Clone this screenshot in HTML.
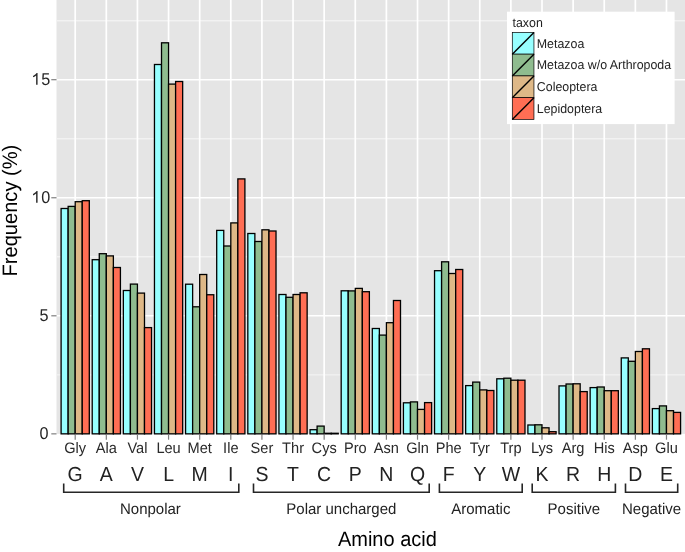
<!DOCTYPE html><html><head><meta charset="utf-8"><style>html,body{margin:0;padding:0;background:#fff;}#w{position:relative;width:685px;height:552px;overflow:hidden;}svg{display:block;position:absolute;left:-6px;top:-6px;will-change:transform;filter:blur(0.35px);}text{font-family:"Liberation Sans",sans-serif;text-rendering:geometricPrecision;}</style></head><body>
<div id="w">
<svg width="697" height="564" viewBox="-6 -6 697 564">
<rect x="-6" y="-6" width="697" height="564" fill="#fff"/>
<rect x="56.5" y="-6" width="634.5" height="439.85" fill="#E5E5E5"/>
<line x1="56.5" x2="691" y1="374.83" y2="374.83" stroke="#F2F2F2" stroke-width="1.4"/>
<line x1="56.5" x2="691" y1="256.78" y2="256.78" stroke="#F2F2F2" stroke-width="1.4"/>
<line x1="56.5" x2="691" y1="138.73" y2="138.73" stroke="#F2F2F2" stroke-width="1.4"/>
<line x1="56.5" x2="691" y1="20.68" y2="20.68" stroke="#F2F2F2" stroke-width="1.4"/>
<line x1="56.5" x2="691" y1="315.80" y2="315.80" stroke="#FFFFFF" stroke-width="1.5"/>
<line x1="56.5" x2="691" y1="197.75" y2="197.75" stroke="#FFFFFF" stroke-width="1.5"/>
<line x1="56.5" x2="691" y1="79.70" y2="79.70" stroke="#FFFFFF" stroke-width="1.5"/>
<line x1="75.20" x2="75.20" y1="-6" y2="433.85" stroke="#FFFFFF" stroke-width="1.7"/>
<line x1="106.32" x2="106.32" y1="-6" y2="433.85" stroke="#FFFFFF" stroke-width="1.7"/>
<line x1="137.44" x2="137.44" y1="-6" y2="433.85" stroke="#FFFFFF" stroke-width="1.7"/>
<line x1="168.56" x2="168.56" y1="-6" y2="433.85" stroke="#FFFFFF" stroke-width="1.7"/>
<line x1="199.68" x2="199.68" y1="-6" y2="433.85" stroke="#FFFFFF" stroke-width="1.7"/>
<line x1="230.80" x2="230.80" y1="-6" y2="433.85" stroke="#FFFFFF" stroke-width="1.7"/>
<line x1="261.92" x2="261.92" y1="-6" y2="433.85" stroke="#FFFFFF" stroke-width="1.7"/>
<line x1="293.04" x2="293.04" y1="-6" y2="433.85" stroke="#FFFFFF" stroke-width="1.7"/>
<line x1="324.16" x2="324.16" y1="-6" y2="433.85" stroke="#FFFFFF" stroke-width="1.7"/>
<line x1="355.28" x2="355.28" y1="-6" y2="433.85" stroke="#FFFFFF" stroke-width="1.7"/>
<line x1="386.40" x2="386.40" y1="-6" y2="433.85" stroke="#FFFFFF" stroke-width="1.7"/>
<line x1="417.52" x2="417.52" y1="-6" y2="433.85" stroke="#FFFFFF" stroke-width="1.7"/>
<line x1="448.64" x2="448.64" y1="-6" y2="433.85" stroke="#FFFFFF" stroke-width="1.7"/>
<line x1="479.76" x2="479.76" y1="-6" y2="433.85" stroke="#FFFFFF" stroke-width="1.7"/>
<line x1="510.88" x2="510.88" y1="-6" y2="433.85" stroke="#FFFFFF" stroke-width="1.7"/>
<line x1="542.00" x2="542.00" y1="-6" y2="433.85" stroke="#FFFFFF" stroke-width="1.7"/>
<line x1="573.12" x2="573.12" y1="-6" y2="433.85" stroke="#FFFFFF" stroke-width="1.7"/>
<line x1="604.24" x2="604.24" y1="-6" y2="433.85" stroke="#FFFFFF" stroke-width="1.7"/>
<line x1="635.36" x2="635.36" y1="-6" y2="433.85" stroke="#FFFFFF" stroke-width="1.7"/>
<line x1="666.48" x2="666.48" y1="-6" y2="433.85" stroke="#FFFFFF" stroke-width="1.7"/>
<rect x="61.10" y="208.50" width="7.05" height="225.35" fill="#97FFFF" stroke="#000" stroke-width="1.3"/>
<rect x="68.15" y="206.40" width="7.05" height="227.45" fill="#8FBC8F" stroke="#000" stroke-width="1.3"/>
<rect x="75.20" y="201.70" width="7.05" height="232.15" fill="#DEB887" stroke="#000" stroke-width="1.3"/>
<rect x="82.25" y="200.70" width="7.05" height="233.15" fill="#FF6E54" stroke="#000" stroke-width="1.3"/>
<rect x="92.22" y="259.70" width="7.05" height="174.15" fill="#97FFFF" stroke="#000" stroke-width="1.3"/>
<rect x="99.27" y="253.70" width="7.05" height="180.15" fill="#8FBC8F" stroke="#000" stroke-width="1.3"/>
<rect x="106.32" y="255.90" width="7.05" height="177.95" fill="#DEB887" stroke="#000" stroke-width="1.3"/>
<rect x="113.37" y="267.50" width="7.05" height="166.35" fill="#FF6E54" stroke="#000" stroke-width="1.3"/>
<rect x="123.34" y="290.50" width="7.05" height="143.35" fill="#97FFFF" stroke="#000" stroke-width="1.3"/>
<rect x="130.39" y="284.10" width="7.05" height="149.75" fill="#8FBC8F" stroke="#000" stroke-width="1.3"/>
<rect x="137.44" y="293.10" width="7.05" height="140.75" fill="#DEB887" stroke="#000" stroke-width="1.3"/>
<rect x="144.49" y="327.60" width="7.05" height="106.25" fill="#FF6E54" stroke="#000" stroke-width="1.3"/>
<rect x="154.46" y="64.50" width="7.05" height="369.35" fill="#97FFFF" stroke="#000" stroke-width="1.3"/>
<rect x="161.51" y="42.80" width="7.05" height="391.05" fill="#8FBC8F" stroke="#000" stroke-width="1.3"/>
<rect x="168.56" y="84.10" width="7.05" height="349.75" fill="#DEB887" stroke="#000" stroke-width="1.3"/>
<rect x="175.61" y="81.50" width="7.05" height="352.35" fill="#FF6E54" stroke="#000" stroke-width="1.3"/>
<rect x="185.58" y="284.20" width="7.05" height="149.65" fill="#97FFFF" stroke="#000" stroke-width="1.3"/>
<rect x="192.63" y="306.80" width="7.05" height="127.05" fill="#8FBC8F" stroke="#000" stroke-width="1.3"/>
<rect x="199.68" y="274.50" width="7.05" height="159.35" fill="#DEB887" stroke="#000" stroke-width="1.3"/>
<rect x="206.73" y="294.75" width="7.05" height="139.10" fill="#FF6E54" stroke="#000" stroke-width="1.3"/>
<rect x="216.70" y="230.40" width="7.05" height="203.45" fill="#97FFFF" stroke="#000" stroke-width="1.3"/>
<rect x="223.75" y="246.00" width="7.05" height="187.85" fill="#8FBC8F" stroke="#000" stroke-width="1.3"/>
<rect x="230.80" y="222.90" width="7.05" height="210.95" fill="#DEB887" stroke="#000" stroke-width="1.3"/>
<rect x="237.85" y="178.90" width="7.05" height="254.95" fill="#FF6E54" stroke="#000" stroke-width="1.3"/>
<rect x="247.82" y="233.50" width="7.05" height="200.35" fill="#97FFFF" stroke="#000" stroke-width="1.3"/>
<rect x="254.87" y="241.50" width="7.05" height="192.35" fill="#8FBC8F" stroke="#000" stroke-width="1.3"/>
<rect x="261.92" y="229.80" width="7.05" height="204.05" fill="#DEB887" stroke="#000" stroke-width="1.3"/>
<rect x="268.97" y="231.00" width="7.05" height="202.85" fill="#FF6E54" stroke="#000" stroke-width="1.3"/>
<rect x="278.94" y="294.50" width="7.05" height="139.35" fill="#97FFFF" stroke="#000" stroke-width="1.3"/>
<rect x="285.99" y="297.30" width="7.05" height="136.55" fill="#8FBC8F" stroke="#000" stroke-width="1.3"/>
<rect x="293.04" y="294.50" width="7.05" height="139.35" fill="#DEB887" stroke="#000" stroke-width="1.3"/>
<rect x="300.09" y="292.80" width="7.05" height="141.05" fill="#FF6E54" stroke="#000" stroke-width="1.3"/>
<rect x="310.06" y="429.70" width="7.05" height="4.15" fill="#97FFFF" stroke="#000" stroke-width="1.3"/>
<rect x="317.11" y="426.10" width="7.05" height="7.75" fill="#8FBC8F" stroke="#000" stroke-width="1.3"/>
<rect x="324.16" y="433.30" width="7.05" height="0.55" fill="#DEB887" stroke="#000" stroke-width="1.3"/>
<rect x="331.21" y="433.30" width="7.05" height="0.55" fill="#FF6E54" stroke="#000" stroke-width="1.3"/>
<rect x="341.18" y="290.80" width="7.05" height="143.05" fill="#97FFFF" stroke="#000" stroke-width="1.3"/>
<rect x="348.23" y="290.90" width="7.05" height="142.95" fill="#8FBC8F" stroke="#000" stroke-width="1.3"/>
<rect x="355.28" y="288.40" width="7.05" height="145.45" fill="#DEB887" stroke="#000" stroke-width="1.3"/>
<rect x="362.33" y="291.70" width="7.05" height="142.15" fill="#FF6E54" stroke="#000" stroke-width="1.3"/>
<rect x="372.30" y="328.50" width="7.05" height="105.35" fill="#97FFFF" stroke="#000" stroke-width="1.3"/>
<rect x="379.35" y="335.10" width="7.05" height="98.75" fill="#8FBC8F" stroke="#000" stroke-width="1.3"/>
<rect x="386.40" y="322.70" width="7.05" height="111.15" fill="#DEB887" stroke="#000" stroke-width="1.3"/>
<rect x="393.45" y="300.50" width="7.05" height="133.35" fill="#FF6E54" stroke="#000" stroke-width="1.3"/>
<rect x="403.42" y="402.80" width="7.05" height="31.05" fill="#97FFFF" stroke="#000" stroke-width="1.3"/>
<rect x="410.47" y="401.90" width="7.05" height="31.95" fill="#8FBC8F" stroke="#000" stroke-width="1.3"/>
<rect x="417.52" y="409.40" width="7.05" height="24.45" fill="#DEB887" stroke="#000" stroke-width="1.3"/>
<rect x="424.57" y="402.60" width="7.05" height="31.25" fill="#FF6E54" stroke="#000" stroke-width="1.3"/>
<rect x="434.54" y="270.70" width="7.05" height="163.15" fill="#97FFFF" stroke="#000" stroke-width="1.3"/>
<rect x="441.59" y="261.80" width="7.05" height="172.05" fill="#8FBC8F" stroke="#000" stroke-width="1.3"/>
<rect x="448.64" y="273.50" width="7.05" height="160.35" fill="#DEB887" stroke="#000" stroke-width="1.3"/>
<rect x="455.69" y="269.50" width="7.05" height="164.35" fill="#FF6E54" stroke="#000" stroke-width="1.3"/>
<rect x="465.66" y="385.60" width="7.05" height="48.25" fill="#97FFFF" stroke="#000" stroke-width="1.3"/>
<rect x="472.71" y="382.10" width="7.05" height="51.75" fill="#8FBC8F" stroke="#000" stroke-width="1.3"/>
<rect x="479.76" y="389.90" width="7.05" height="43.95" fill="#DEB887" stroke="#000" stroke-width="1.3"/>
<rect x="486.81" y="390.50" width="7.05" height="43.35" fill="#FF6E54" stroke="#000" stroke-width="1.3"/>
<rect x="496.78" y="378.80" width="7.05" height="55.05" fill="#97FFFF" stroke="#000" stroke-width="1.3"/>
<rect x="503.83" y="378.20" width="7.05" height="55.65" fill="#8FBC8F" stroke="#000" stroke-width="1.3"/>
<rect x="510.88" y="380.20" width="7.05" height="53.65" fill="#DEB887" stroke="#000" stroke-width="1.3"/>
<rect x="517.93" y="380.20" width="7.05" height="53.65" fill="#FF6E54" stroke="#000" stroke-width="1.3"/>
<rect x="527.90" y="425.00" width="7.05" height="8.85" fill="#97FFFF" stroke="#000" stroke-width="1.3"/>
<rect x="534.95" y="424.80" width="7.05" height="9.05" fill="#8FBC8F" stroke="#000" stroke-width="1.3"/>
<rect x="542.00" y="427.80" width="7.05" height="6.05" fill="#DEB887" stroke="#000" stroke-width="1.3"/>
<rect x="549.05" y="431.70" width="7.05" height="2.15" fill="#FF6E54" stroke="#000" stroke-width="1.3"/>
<rect x="559.02" y="385.90" width="7.05" height="47.95" fill="#97FFFF" stroke="#000" stroke-width="1.3"/>
<rect x="566.07" y="384.00" width="7.05" height="49.85" fill="#8FBC8F" stroke="#000" stroke-width="1.3"/>
<rect x="573.12" y="383.80" width="7.05" height="50.05" fill="#DEB887" stroke="#000" stroke-width="1.3"/>
<rect x="580.17" y="391.60" width="7.05" height="42.25" fill="#FF6E54" stroke="#000" stroke-width="1.3"/>
<rect x="590.14" y="387.60" width="7.05" height="46.25" fill="#97FFFF" stroke="#000" stroke-width="1.3"/>
<rect x="597.19" y="387.00" width="7.05" height="46.85" fill="#8FBC8F" stroke="#000" stroke-width="1.3"/>
<rect x="604.24" y="390.70" width="7.05" height="43.15" fill="#DEB887" stroke="#000" stroke-width="1.3"/>
<rect x="611.29" y="390.70" width="7.05" height="43.15" fill="#FF6E54" stroke="#000" stroke-width="1.3"/>
<rect x="621.26" y="357.90" width="7.05" height="75.95" fill="#97FFFF" stroke="#000" stroke-width="1.3"/>
<rect x="628.31" y="361.30" width="7.05" height="72.55" fill="#8FBC8F" stroke="#000" stroke-width="1.3"/>
<rect x="635.36" y="351.50" width="7.05" height="82.35" fill="#DEB887" stroke="#000" stroke-width="1.3"/>
<rect x="642.41" y="348.80" width="7.05" height="85.05" fill="#FF6E54" stroke="#000" stroke-width="1.3"/>
<rect x="652.38" y="408.60" width="7.05" height="25.25" fill="#97FFFF" stroke="#000" stroke-width="1.3"/>
<rect x="659.43" y="405.90" width="7.05" height="27.95" fill="#8FBC8F" stroke="#000" stroke-width="1.3"/>
<rect x="666.48" y="410.70" width="7.05" height="23.15" fill="#DEB887" stroke="#000" stroke-width="1.3"/>
<rect x="673.53" y="412.40" width="7.05" height="21.45" fill="#FF6E54" stroke="#000" stroke-width="1.3"/>
<line x1="51.3" x2="56.5" y1="433.85" y2="433.85" stroke="#7F7F7F" stroke-width="1.2"/>
<text transform="translate(39.44,438.95) scale(1,1.06)" font-size="16.2" fill="#262626">0</text>
<line x1="51.3" x2="56.5" y1="315.80" y2="315.80" stroke="#7F7F7F" stroke-width="1.2"/>
<text transform="translate(39.44,320.90) scale(1,1.06)" font-size="16.2" fill="#262626">5</text>
<line x1="51.3" x2="56.5" y1="197.75" y2="197.75" stroke="#7F7F7F" stroke-width="1.2"/>
<path transform="translate(32.18,202.85) scale(0.00791,-0.00806)" d="M500 0L680 0L680 1466L563 1466C517 1380 397 1250 110 1099L110 925C287 990 417 1060 500 1147Z" fill="#262626"/>
<text transform="translate(41.19,202.85) scale(1,1.06)" font-size="16.2" fill="#262626">0</text>
<line x1="51.3" x2="56.5" y1="79.70" y2="79.70" stroke="#7F7F7F" stroke-width="1.2"/>
<path transform="translate(32.18,84.80) scale(0.00791,-0.00806)" d="M500 0L680 0L680 1466L563 1466C517 1380 397 1250 110 1099L110 925C287 990 417 1060 500 1147Z" fill="#262626"/>
<text transform="translate(41.19,84.80) scale(1,1.06)" font-size="16.2" fill="#262626">5</text>
<line x1="75.20" x2="75.20" y1="433.85" y2="439.7" stroke="#7F7F7F" stroke-width="1.2"/>
<text transform="translate(75.20,453.20) scale(1,1.04)" font-size="14.6" fill="#2a2a2a" text-anchor="middle">Gly</text>
<text transform="translate(75.20,480.60) scale(1,1.04)" font-size="19.5" fill="#222" text-anchor="middle">G</text>
<line x1="106.32" x2="106.32" y1="433.85" y2="439.7" stroke="#7F7F7F" stroke-width="1.2"/>
<text transform="translate(106.32,453.20) scale(1,1.04)" font-size="14.6" fill="#2a2a2a" text-anchor="middle">Ala</text>
<text transform="translate(106.32,480.60) scale(1,1.04)" font-size="19.5" fill="#222" text-anchor="middle">A</text>
<line x1="137.44" x2="137.44" y1="433.85" y2="439.7" stroke="#7F7F7F" stroke-width="1.2"/>
<text transform="translate(137.44,453.20) scale(1,1.04)" font-size="14.6" fill="#2a2a2a" text-anchor="middle">Val</text>
<text transform="translate(137.44,480.60) scale(1,1.04)" font-size="19.5" fill="#222" text-anchor="middle">V</text>
<line x1="168.56" x2="168.56" y1="433.85" y2="439.7" stroke="#7F7F7F" stroke-width="1.2"/>
<text transform="translate(168.56,453.20) scale(1,1.04)" font-size="14.6" fill="#2a2a2a" text-anchor="middle">Leu</text>
<text transform="translate(168.56,480.60) scale(1,1.04)" font-size="19.5" fill="#222" text-anchor="middle">L</text>
<line x1="199.68" x2="199.68" y1="433.85" y2="439.7" stroke="#7F7F7F" stroke-width="1.2"/>
<text transform="translate(199.68,453.20) scale(1,1.04)" font-size="14.6" fill="#2a2a2a" text-anchor="middle">Met</text>
<text transform="translate(199.68,480.60) scale(1,1.04)" font-size="19.5" fill="#222" text-anchor="middle">M</text>
<line x1="230.80" x2="230.80" y1="433.85" y2="439.7" stroke="#7F7F7F" stroke-width="1.2"/>
<text transform="translate(230.80,453.20) scale(1,1.04)" font-size="14.6" fill="#2a2a2a" text-anchor="middle">Ile</text>
<text transform="translate(230.80,480.60) scale(1,1.04)" font-size="19.5" fill="#222" text-anchor="middle">I</text>
<line x1="261.92" x2="261.92" y1="433.85" y2="439.7" stroke="#7F7F7F" stroke-width="1.2"/>
<text transform="translate(261.92,453.20) scale(1,1.04)" font-size="14.6" fill="#2a2a2a" text-anchor="middle">Ser</text>
<text transform="translate(261.92,480.60) scale(1,1.04)" font-size="19.5" fill="#222" text-anchor="middle">S</text>
<line x1="293.04" x2="293.04" y1="433.85" y2="439.7" stroke="#7F7F7F" stroke-width="1.2"/>
<text transform="translate(293.04,453.20) scale(1,1.04)" font-size="14.6" fill="#2a2a2a" text-anchor="middle">Thr</text>
<text transform="translate(293.04,480.60) scale(1,1.04)" font-size="19.5" fill="#222" text-anchor="middle">T</text>
<line x1="324.16" x2="324.16" y1="433.85" y2="439.7" stroke="#7F7F7F" stroke-width="1.2"/>
<text transform="translate(324.16,453.20) scale(1,1.04)" font-size="14.6" fill="#2a2a2a" text-anchor="middle">Cys</text>
<text transform="translate(324.16,480.60) scale(1,1.04)" font-size="19.5" fill="#222" text-anchor="middle">C</text>
<line x1="355.28" x2="355.28" y1="433.85" y2="439.7" stroke="#7F7F7F" stroke-width="1.2"/>
<text transform="translate(355.28,453.20) scale(1,1.04)" font-size="14.6" fill="#2a2a2a" text-anchor="middle">Pro</text>
<text transform="translate(355.28,480.60) scale(1,1.04)" font-size="19.5" fill="#222" text-anchor="middle">P</text>
<line x1="386.40" x2="386.40" y1="433.85" y2="439.7" stroke="#7F7F7F" stroke-width="1.2"/>
<text transform="translate(386.40,453.20) scale(1,1.04)" font-size="14.6" fill="#2a2a2a" text-anchor="middle">Asn</text>
<text transform="translate(386.40,480.60) scale(1,1.04)" font-size="19.5" fill="#222" text-anchor="middle">N</text>
<line x1="417.52" x2="417.52" y1="433.85" y2="439.7" stroke="#7F7F7F" stroke-width="1.2"/>
<text transform="translate(417.52,453.20) scale(1,1.04)" font-size="14.6" fill="#2a2a2a" text-anchor="middle">Gln</text>
<text transform="translate(417.52,480.60) scale(1,1.04)" font-size="19.5" fill="#222" text-anchor="middle">Q</text>
<line x1="448.64" x2="448.64" y1="433.85" y2="439.7" stroke="#7F7F7F" stroke-width="1.2"/>
<text transform="translate(448.64,453.20) scale(1,1.04)" font-size="14.6" fill="#2a2a2a" text-anchor="middle">Phe</text>
<text transform="translate(448.64,480.60) scale(1,1.04)" font-size="19.5" fill="#222" text-anchor="middle">F</text>
<line x1="479.76" x2="479.76" y1="433.85" y2="439.7" stroke="#7F7F7F" stroke-width="1.2"/>
<text transform="translate(479.76,453.20) scale(1,1.04)" font-size="14.6" fill="#2a2a2a" text-anchor="middle">Tyr</text>
<text transform="translate(479.76,480.60) scale(1,1.04)" font-size="19.5" fill="#222" text-anchor="middle">Y</text>
<line x1="510.88" x2="510.88" y1="433.85" y2="439.7" stroke="#7F7F7F" stroke-width="1.2"/>
<text transform="translate(510.88,453.20) scale(1,1.04)" font-size="14.6" fill="#2a2a2a" text-anchor="middle">Trp</text>
<text transform="translate(510.88,480.60) scale(1,1.04)" font-size="19.5" fill="#222" text-anchor="middle">W</text>
<line x1="542.00" x2="542.00" y1="433.85" y2="439.7" stroke="#7F7F7F" stroke-width="1.2"/>
<text transform="translate(542.00,453.20) scale(1,1.04)" font-size="14.6" fill="#2a2a2a" text-anchor="middle">Lys</text>
<text transform="translate(542.00,480.60) scale(1,1.04)" font-size="19.5" fill="#222" text-anchor="middle">K</text>
<line x1="573.12" x2="573.12" y1="433.85" y2="439.7" stroke="#7F7F7F" stroke-width="1.2"/>
<text transform="translate(573.12,453.20) scale(1,1.04)" font-size="14.6" fill="#2a2a2a" text-anchor="middle">Arg</text>
<text transform="translate(573.12,480.60) scale(1,1.04)" font-size="19.5" fill="#222" text-anchor="middle">R</text>
<line x1="604.24" x2="604.24" y1="433.85" y2="439.7" stroke="#7F7F7F" stroke-width="1.2"/>
<text transform="translate(604.24,453.20) scale(1,1.04)" font-size="14.6" fill="#2a2a2a" text-anchor="middle">His</text>
<text transform="translate(604.24,480.60) scale(1,1.04)" font-size="19.5" fill="#222" text-anchor="middle">H</text>
<line x1="635.36" x2="635.36" y1="433.85" y2="439.7" stroke="#7F7F7F" stroke-width="1.2"/>
<text transform="translate(635.36,453.20) scale(1,1.04)" font-size="14.6" fill="#2a2a2a" text-anchor="middle">Asp</text>
<text transform="translate(635.36,480.60) scale(1,1.04)" font-size="19.5" fill="#222" text-anchor="middle">D</text>
<line x1="666.48" x2="666.48" y1="433.85" y2="439.7" stroke="#7F7F7F" stroke-width="1.2"/>
<text transform="translate(666.48,453.20) scale(1,1.04)" font-size="14.6" fill="#2a2a2a" text-anchor="middle">Glu</text>
<text transform="translate(666.48,480.60) scale(1,1.04)" font-size="19.5" fill="#222" text-anchor="middle">E</text>
<polyline points="63.7,483.5 63.7,492.2 238.8,492.2 238.8,483.5" fill="none" stroke="#262626" stroke-width="1.6"/>
<text transform="translate(150.40,513.60) scale(1,1.03)" font-size="15.0" fill="#222" text-anchor="middle">Nonpolar</text>
<polyline points="253.5,483.5 253.5,492.2 429.2,492.2 429.2,483.5" fill="none" stroke="#262626" stroke-width="1.6"/>
<text transform="translate(341.35,513.60) scale(1,1.03)" font-size="15.0" fill="#222" text-anchor="middle">Polar uncharged</text>
<polyline points="439.4,483.5 439.4,492.2 522.2,492.2 522.2,483.5" fill="none" stroke="#262626" stroke-width="1.6"/>
<text transform="translate(480.80,513.60) scale(1,1.03)" font-size="15.0" fill="#222" text-anchor="middle">Aromatic</text>
<polyline points="532.2,483.5 532.2,492.2 615.4,492.2 615.4,483.5" fill="none" stroke="#262626" stroke-width="1.6"/>
<text transform="translate(573.80,513.60) scale(1,1.03)" font-size="15.0" fill="#222" text-anchor="middle">Positive</text>
<polyline points="625.5,483.5 625.5,492.2 677.7,492.2 677.7,483.5" fill="none" stroke="#262626" stroke-width="1.6"/>
<text transform="translate(651.60,513.60) scale(1,1.03)" font-size="15.0" fill="#222" text-anchor="middle">Negative</text>
<text transform="translate(387.40,545.60) scale(1,1.04)" font-size="20.0" fill="#000" text-anchor="middle">Amino acid</text>
<g transform="translate(17.2,210.6) rotate(-90)"><text transform="scale(1,1.04)" x="0" y="0" font-size="20.1" fill="#000" text-anchor="middle">Frequency (%)</text></g>
<rect x="507" y="11.7" width="167.6" height="112.4" fill="#fff"/>
<text transform="translate(512.50,26.90) scale(1,1.04)" font-size="12.4" fill="#222">taxon</text>
<rect x="512.3" y="32.40" width="21.65" height="21.75" fill="#97FFFF" stroke="#000" stroke-width="0.7"/>
<line x1="512.3" y1="54.15" x2="533.9499999999999" y2="32.40" stroke="#000" stroke-width="1.4"/>
<text transform="translate(536.80,47.67) scale(1,1.04)" font-size="12.4" fill="#222">Metazoa</text>
<rect x="512.3" y="54.15" width="21.65" height="21.75" fill="#8FBC8F" stroke="#000" stroke-width="0.7"/>
<line x1="512.3" y1="75.90" x2="533.9499999999999" y2="54.15" stroke="#000" stroke-width="1.4"/>
<text transform="translate(536.80,69.43) scale(1,1.04)" font-size="12.4" fill="#222">Metazoa w/o Arthropoda</text>
<rect x="512.3" y="75.90" width="21.65" height="21.75" fill="#DEB887" stroke="#000" stroke-width="0.7"/>
<line x1="512.3" y1="97.65" x2="533.9499999999999" y2="75.90" stroke="#000" stroke-width="1.4"/>
<text transform="translate(536.80,91.18) scale(1,1.04)" font-size="12.4" fill="#222">Coleoptera</text>
<rect x="512.3" y="97.65" width="21.65" height="21.75" fill="#FF6E54" stroke="#000" stroke-width="0.7"/>
<line x1="512.3" y1="119.40" x2="533.9499999999999" y2="97.65" stroke="#000" stroke-width="1.4"/>
<text transform="translate(536.80,112.93) scale(1,1.04)" font-size="12.4" fill="#222">Lepidoptera</text>
</svg></div></body></html>
